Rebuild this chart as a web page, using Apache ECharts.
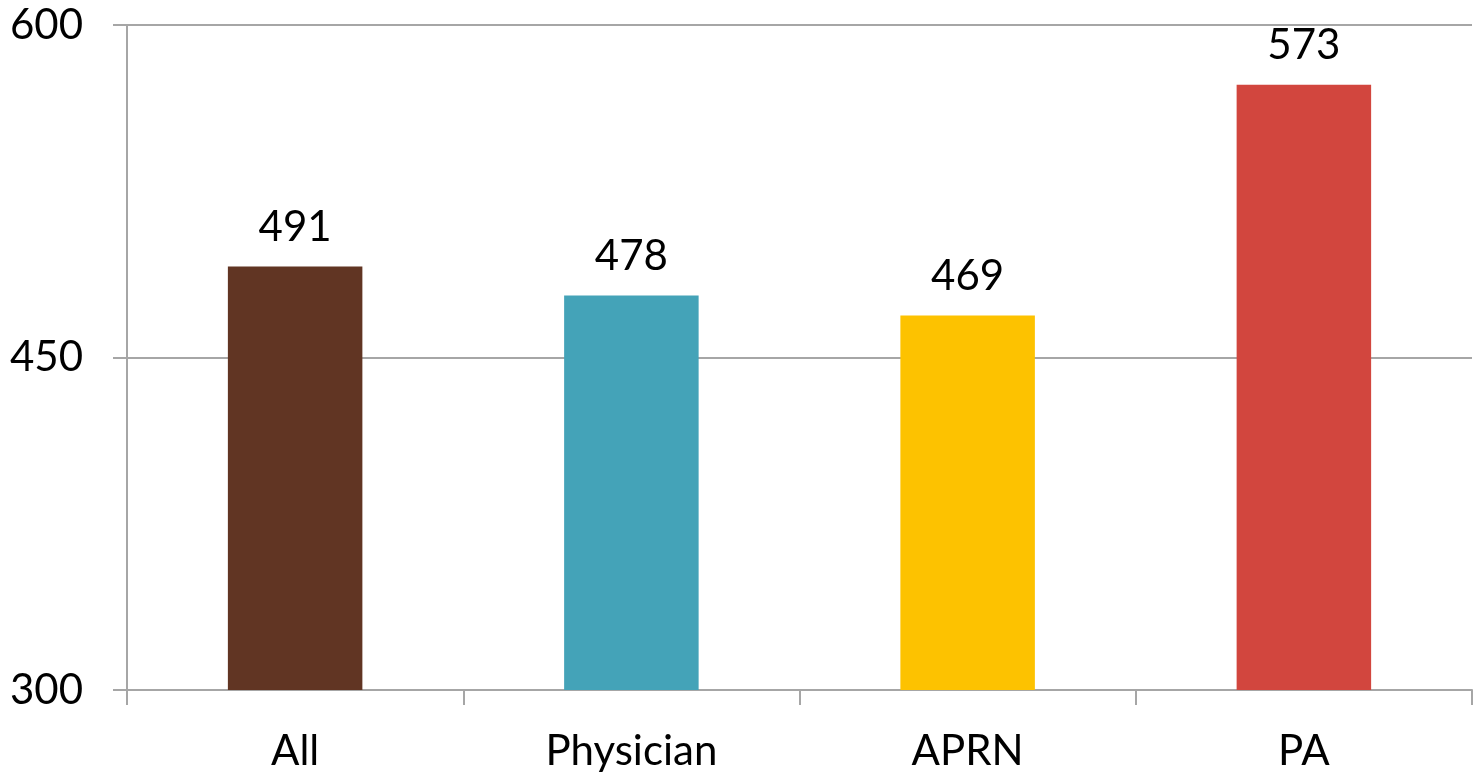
<!DOCTYPE html>
<html><head><meta charset="utf-8">
<script src="https://cdn.jsdelivr.net/npm/echarts@6/dist/echarts.min.js"></script>
<style>html,body{margin:0;padding:0;background:#fff}#c{width:1475px;height:779px}</style>
</head><body><div id="c"></div>
<script>
const categories = ["All", "Physician", "APRN", "PA"];
const values = [491, 478, 469, 573];
const barColors = ["#613523", "#44A3B8", "#FDC200", "#D2463E"];
const yTicks = [300, 450, 600];

const chart = echarts.init(document.getElementById('c'), null, {renderer: 'canvas'});
const font = 'Lato, "Open Sans", sans-serif';
chart.setOption({
  animation: false,
  grid: {left: 127, right: 3, top: 25, bottom: 89, containLabel: false},
  xAxis: {
    type: 'category', data: categories, boundaryGap: true,
    axisLine: {lineStyle: {color: '#a6a6a6', width: 2}},
    axisTick: {show: true, length: 15, inside: false, alignWithLabel: false, lineStyle: {color: '#a6a6a6', width: 2}},
    axisLabel: {color: '#000', fontSize: 42, fontFamily: font, margin: 40}
  },
  yAxis: {
    type: 'value', min: yTicks[0], max: yTicks[yTicks.length - 1], interval: 150,
    axisLine: {show: true, lineStyle: {color: '#a6a6a6', width: 2}},
    axisTick: {show: true, length: 14, lineStyle: {color: '#a6a6a6', width: 2}},
    splitLine: {show: true, lineStyle: {color: '#a6a6a6', width: 2}},
    axisLabel: {color: '#000', fontSize: 42, fontFamily: font, margin: 44}
  },
  series: [{
    type: 'bar',
    data: values.map((v, i) => ({value: v, itemStyle: {color: barColors[i]}})),
    barWidth: '40%',
    label: {show: true, position: 'top', distance: 18, color: '#000', fontSize: 42, fontFamily: font}
  }]
});
</script></body></html>
